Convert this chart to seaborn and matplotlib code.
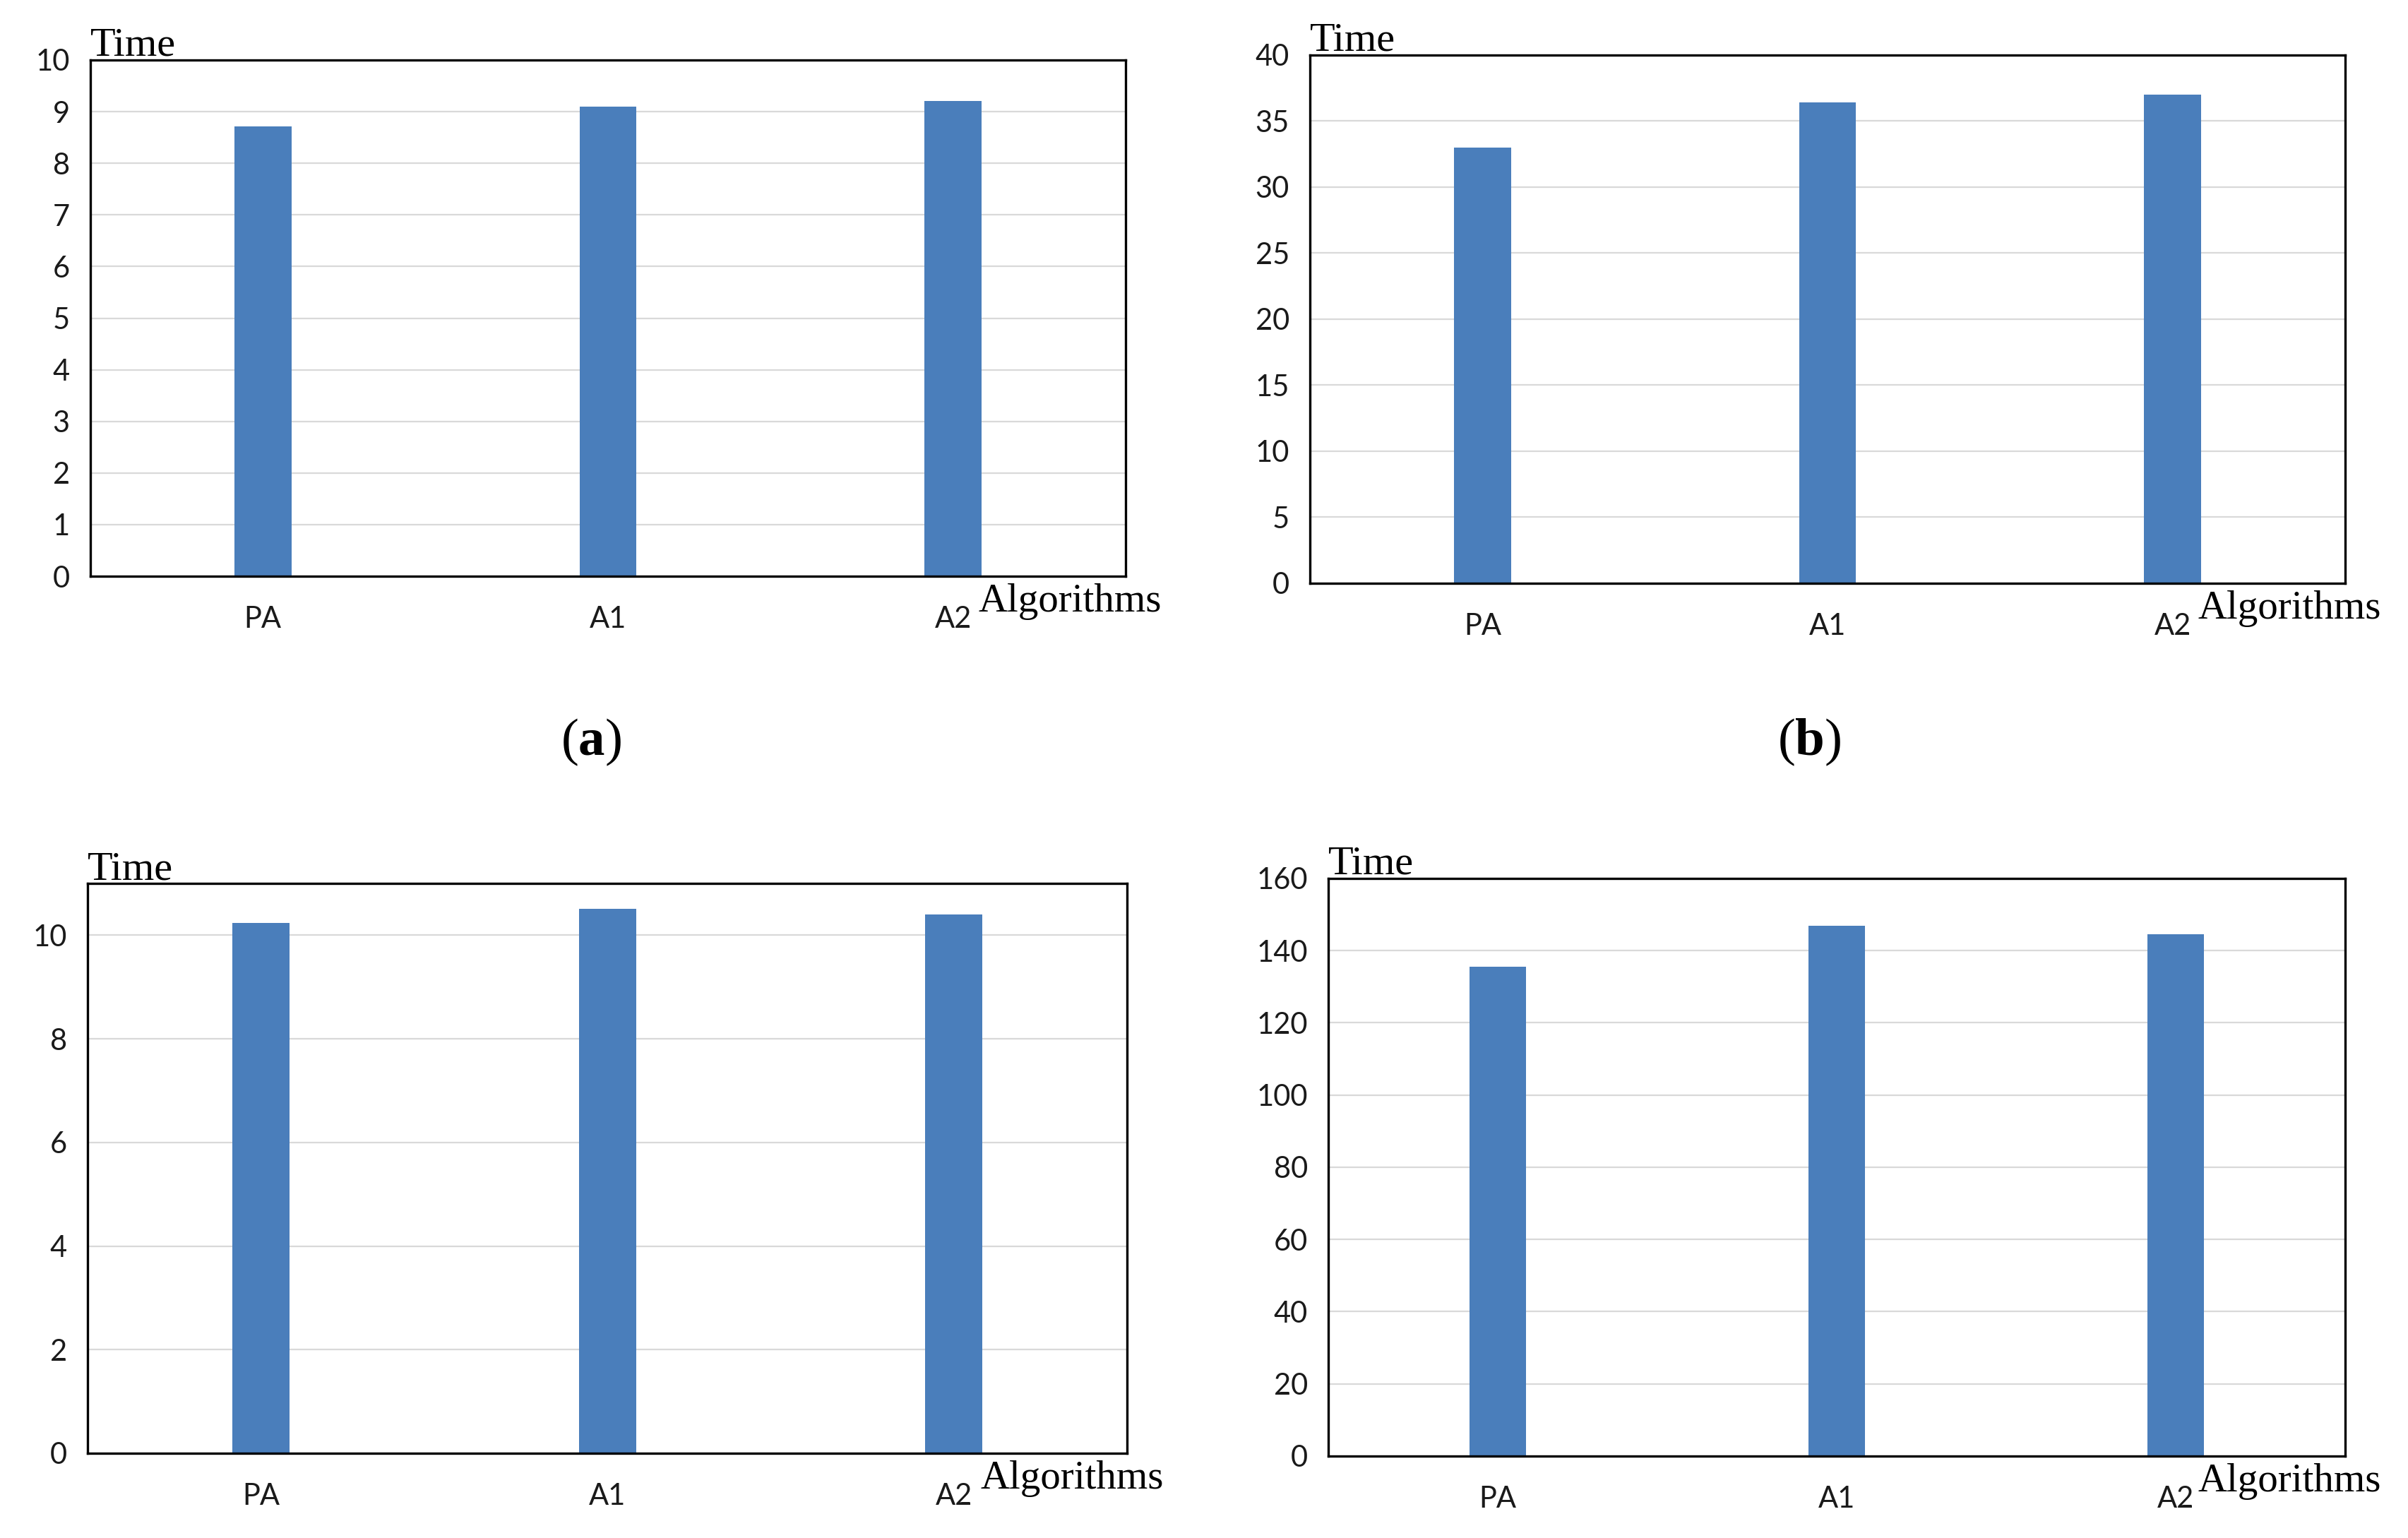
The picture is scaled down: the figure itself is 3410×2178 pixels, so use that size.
import matplotlib
matplotlib.use("Agg")
import matplotlib.pyplot as plt
import seaborn as sns
import pandas as pd
import numpy as np

# ---- data ----
algorithms = ["PA", "A1", "A2"]
time_a = [8.72, 9.10, 9.21]
time_b = [33.0, 36.4, 37.0]
time_c = [10.24, 10.51, 10.40]
time_d = [135.6, 146.8, 144.5]

yticks_a = list(range(0, 11, 1))
yticks_b = list(range(0, 41, 5))
yticks_c = list(range(0, 11, 2))
yticks_d = list(range(0, 161, 20))
ylims = [(0, 10), (0, 40), (0, 11), (0, 160)]

panel_labels = ["a", "b"]
y_label = "Time"
x_label = "Algorithms"

sns.set_theme(style="white")
plt.rcParams['font.family'] = ['Lato', 'DejaVu Sans']
plt.rcParams['text.color'] = 'black'
plt.rcParams['mathtext.fontset'] = 'custom'
plt.rcParams['mathtext.rm'] = 'Liberation Serif'
plt.rcParams['mathtext.bf'] = 'Liberation Serif:bold'

BAR = "#4A7EBB"
GRID = "#D9D9D9"

fig = plt.figure(figsize=(34.10, 21.78), dpi=100)

positions = [
    [0.0375, 0.6253, 0.4299, 0.3357],
    [0.5440, 0.6208, 0.4299, 0.3434],
    [0.0364, 0.0551, 0.4317, 0.3705],
    [0.5516, 0.0533, 0.4223, 0.3756],
]
series = [time_a, time_b, time_c, time_d]
ticks = [yticks_a, yticks_b, yticks_c, yticks_d]

for pos, vals, yt, yl in zip(positions, series, ticks, ylims):
    ax = fig.add_axes(pos)
    df = pd.DataFrame({"Algorithm": algorithms, "Time": vals})
    sns.barplot(data=df, x="Algorithm", y="Time", ax=ax, color=BAR,
                saturation=1, width=0.165, edgecolor="none")
    ax.set_xlim(-0.5, 2.5)
    ax.set_ylim(*yl)
    ax.set_yticks(yt)
    ax.set_yticklabels([str(v) for v in yt])
    ax.set_axisbelow(True)
    ax.yaxis.grid(True, color=GRID, linewidth=1.6)
    ax.xaxis.grid(False)
    for s in ax.spines.values():
        s.set_visible(True)
        s.set_color("black")
        s.set_linewidth(2.4)
    ax.tick_params(axis="y", length=0, pad=21, labelsize=30, labelcolor="#1a1a1a")
    ax.tick_params(axis="x", length=0, pad=30, labelsize=30, labelcolor="#1a1a1a")
    ax.set_xlabel("")
    ax.set_ylabel("")
    ax.annotate(y_label, xy=(0, 1), xycoords="axes fraction",
                xytext=(0, 6), textcoords="offset pixels",
                ha="left", va="baseline", fontsize=42,
                family="Liberation Serif", color="black")
    ax.annotate(x_label, xy=(1, 0), xycoords="axes fraction",
                xytext=(-208, -50), textcoords="offset pixels",
                ha="left", va="baseline", fontsize=41,
                family="Liberation Serif", color="black")

fig.text(0.2455, 0.5174, r"($\mathbf{%s}$)" % panel_labels[0], ha="center", va="center",
         fontsize=54, family="Liberation Serif", color="black")
fig.text(0.7513, 0.5174, r"($\mathbf{%s}$)" % panel_labels[1], ha="center", va="center",
         fontsize=54, family="Liberation Serif", color="black")

fig.savefig("out.png", dpi=100, facecolor="white")
